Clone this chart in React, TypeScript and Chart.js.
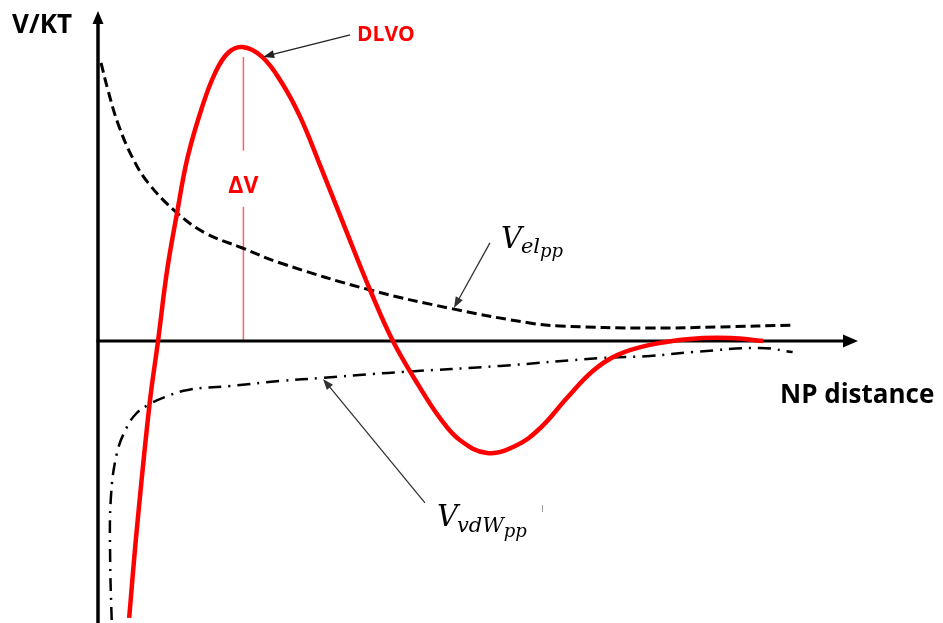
import React, { useEffect, useRef } from "react";
import { Chart, registerables } from "chart.js";

Chart.register(...registerables);

const W = 943;
const H = 623;

// Separation distance (arbitrary units) and interaction energy (V/kT)
const dlvoDistance = [0.41, 0.51, 0.68, 0.79, 0.91, 1.04, 1.18, 1.37, 1.54, 1.71, 1.9, 2.16, 2.42, 2.66, 2.92, 3.25, 3.58, 3.88, 4.24, 4.5, 4.76, 5.12, 5.49, 5.82, 6.17, 6.51, 6.83, 7.26, 7.79, 8.32, 8.75];
const dlvoEnergy = [-9.23, -6.3, -2.07, 0, 2.37, 4.27, 6.13, 7.8, 8.93, 9.6, 9.8, 9.47, 8.6, 7.47, 5.87, 3.77, 1.7, 0, -1.57, -2.57, -3.3, -3.73, -3.5, -2.9, -1.9, -1.0, -0.47, -0.13, 0.07, 0.1, 0];

const elDistance = [0.04, 0.13, 0.26, 0.45, 0.66, 1.04, 1.41, 1.9, 2.4, 3.58, 4.67, 5.68, 6.08, 7.26, 8.18, 9.14];
const elEnergy = [9.27, 8.37, 7.27, 6.13, 5.27, 4.27, 3.6, 3.1, 2.6, 1.7, 1.07, 0.6, 0.5, 0.43, 0.47, 0.53];

const vdwDistance = [0.18, 0.16, 0.17, 0.25, 0.38, 0.51, 0.66, 0.88, 1.18, 1.74, 2.4, 2.96, 3.62, 4.01, 5.29, 6.61, 7.26, 7.83, 8.71, 9.14];
const vdwEnergy = [-9.3, -7.3, -5.2, -3.73, -2.87, -2.4, -2.13, -1.87, -1.63, -1.5, -1.33, -1.23, -1.1, -1.03, -0.83, -0.57, -0.5, -0.37, -0.23, -0.37];

const yAxisTitle = "V/KT";
const xAxisTitle = "NP distance";
const dlvoTitle = "DLVO";
const barrierTitle = "ΔV";

// visible window of the schematic, origin of the axes at (0, 0)
const X_MIN = -1.2895;
const X_MAX = 11.1184;
const Y_MIN = -9.4;
const Y_MAX = 11.3667;
const X_AXIS_END = 10;
const Y_AXIS_END = 11.0;

const RED = "#ff0000";

const toPoints = (xs: number[], ys: number[]) => xs.map((x, i) => ({ x, y: ys[i] }));

function arrow(ctx: CanvasRenderingContext2D, x1: number, y1: number, x2: number, y2: number, color: string) {
  const ang = Math.atan2(y2 - y1, x2 - x1);
  const len = 11;
  const half = 4;
  ctx.save();
  ctx.strokeStyle = color;
  ctx.fillStyle = color;
  ctx.lineWidth = 1.3;
  ctx.beginPath();
  ctx.moveTo(x1, y1);
  ctx.lineTo(x2 - Math.cos(ang) * len * 0.8, y2 - Math.sin(ang) * len * 0.8);
  ctx.stroke();
  ctx.beginPath();
  ctx.moveTo(x2, y2);
  ctx.lineTo(x2 - Math.cos(ang) * len - Math.sin(ang) * half, y2 - Math.sin(ang) * len + Math.cos(ang) * half);
  ctx.lineTo(x2 - Math.cos(ang) * len + Math.sin(ang) * half, y2 - Math.sin(ang) * len - Math.cos(ang) * half);
  ctx.closePath();
  ctx.fill();
  ctx.restore();
}

type Part = [string, number, number, number];

// italic symbol with nested subscripts: [text, size, baseline shift, extra advance]
function mathLabel(ctx: CanvasRenderingContext2D, x: number, base: number, parts: Part[]) {
  ctx.save();
  ctx.fillStyle = "#000";
  ctx.textBaseline = "alphabetic";
  ctx.textAlign = "left";
  let cx = x;
  for (const [t, size, dy, adv] of parts) {
    ctx.font = `italic ${size}px "DejaVu Serif"`;
    ctx.fillText(t, cx, base + dy);
    cx += ctx.measureText(t).width + adv;
  }
  ctx.restore();
}

const schematicPlugin = {
  id: "schematic",
  beforeDatasetsDraw(chart: any) {
    const { ctx } = chart;
    const xs = chart.scales.x;
    const ys = chart.scales.y;
    const ox = xs.getPixelForValue(0);
    const oy = ys.getPixelForValue(0);

    // energy barrier marker from the DLVO maximum down to the axis
    let iPeak = 0;
    dlvoEnergy.forEach((v, i) => {
      if (v > dlvoEnergy[iPeak]) iPeak = i;
    });
    const px = xs.getPixelForValue(dlvoDistance[iPeak]) + 1;
    const pTop = ys.getPixelForValue(dlvoEnergy[iPeak]) + 10;
    const labelY = ys.getPixelForValue(dlvoEnergy[iPeak] * 0.525);
    ctx.save();
    ctx.strokeStyle = "rgba(255,60,60,0.8)";
    ctx.lineWidth = 1.5;
    ctx.beginPath();
    ctx.moveTo(px, pTop);
    ctx.lineTo(px, labelY - 36);
    ctx.moveTo(px, labelY + 20);
    ctx.lineTo(px, oy);
    ctx.stroke();
    ctx.fillStyle = RED;
    ctx.font = 'bold 23px "Open Sans"';
    ctx.textAlign = "center";
    ctx.textBaseline = "middle";
    ctx.fillText(barrierTitle, px, labelY);

    // axes with arrowheads
    const yTop = ys.getPixelForValue(Y_AXIS_END);
    const xEnd = xs.getPixelForValue(X_AXIS_END);
    ctx.strokeStyle = "#000";
    ctx.fillStyle = "#000";
    ctx.lineWidth = 3.5;
    ctx.beginPath();
    ctx.moveTo(ox, H);
    ctx.lineTo(ox, yTop + 10);
    ctx.stroke();
    ctx.beginPath();
    ctx.moveTo(ox, yTop);
    ctx.lineTo(ox - 5.5, yTop + 13);
    ctx.lineTo(ox + 5.5, yTop + 13);
    ctx.closePath();
    ctx.fill();

    ctx.lineWidth = 3;
    ctx.beginPath();
    ctx.moveTo(ox - 1.5, oy);
    ctx.lineTo(xEnd - 12, oy);
    ctx.stroke();
    ctx.beginPath();
    ctx.moveTo(xEnd, oy);
    ctx.lineTo(xEnd - 15, oy - 6.5);
    ctx.lineTo(xEnd - 15, oy + 6.5);
    ctx.closePath();
    ctx.fill();
    ctx.restore();
  },
  afterDatasetsDraw(chart: any) {
    const { ctx } = chart;
    const xs = chart.scales.x;
    const ys = chart.scales.y;
    const at = (xv: number, yv: number) => [xs.getPixelForValue(xv), ys.getPixelForValue(yv)];

    const [dx, dy] = at(dlvoDistance[11], dlvoEnergy[11]);
    arrow(ctx, dx + 88, dy - 22, dx + 1, dy, "#222");

    const [ex, ey] = at(elDistance[10], elEnergy[10]);
    arrow(ctx, ex + 37, ey - 66, ex + 1, ey - 1, "#333");

    const [vx, vy] = at(vdwDistance[11], vdwEnergy[11]);
    arrow(ctx, vx + 102, vy + 125, vx, vy + 1, "#333");

    ctx.save();
    ctx.textAlign = "left";
    ctx.textBaseline = "alphabetic";
    ctx.fillStyle = RED;
    ctx.font = 'bold 21px "Open Sans"';
    ctx.fillText(dlvoTitle, 357, 41);

    ctx.fillStyle = "#000";
    ctx.font = 'bold 26px "Open Sans"';
    ctx.fillText(yAxisTitle, 12, 33);
    ctx.fillText(xAxisTitle, 780, 403);

    ctx.strokeStyle = "rgba(120,120,120,0.7)";
    ctx.lineWidth = 1;
    ctx.beginPath();
    ctx.moveTo(542.5, 505);
    ctx.lineTo(542.5, 512);
    ctx.stroke();
    ctx.restore();

    mathLabel(ctx, 501, 248, [
      ["V", 29, 0, -1],
      ["el", 21, 5, 0],
      ["pp", 18, 9, 0],
    ]);
    mathLabel(ctx, 437, 526, [
      ["V", 29, 0, -1],
      ["vdW", 21, 6, 0],
      ["pp", 18, 11, 0],
    ]);
  },
};

export default function App() {
  const canvasRef = useRef<HTMLCanvasElement>(null);

  useEffect(() => {
    const canvas = canvasRef.current;
    if (!canvas) return;
    const chart = new Chart(canvas, {
      type: "line",
      data: {
        datasets: [
          {
            label: "DLVO",
            data: toPoints(dlvoDistance, dlvoEnergy),
            borderColor: RED,
            borderWidth: 4.5,
            tension: 0.4,
            pointRadius: 0,
            fill: false,
            order: 0,
          },
          {
            label: "V_el",
            data: toPoints(elDistance, elEnergy),
            borderColor: "#000",
            borderWidth: 3,
            borderDash: [10, 5],
            tension: 0.4,
            pointRadius: 0,
            fill: false,
            order: 1,
          },
          {
            label: "V_vdW",
            data: toPoints(vdwDistance, vdwEnergy),
            borderColor: "#000",
            borderWidth: 2.5,
            borderDash: [13, 7, 2, 7],
            tension: 0.4,
            pointRadius: 0,
            fill: false,
            order: 2,
          },
        ],
      },
      options: {
        responsive: false,
        devicePixelRatio: 1,
        animation: false,
        events: [],
        layout: { padding: 0 },
        plugins: { legend: { display: false }, tooltip: { enabled: false } },
        scales: {
          x: { type: "linear", min: X_MIN, max: X_MAX, display: false },
          y: { type: "linear", min: Y_MIN, max: Y_MAX, display: false },
        },
      },
      plugins: [schematicPlugin],
    } as any);
    return () => chart.destroy();
  }, []);

  return (
    <div style={{ position: "fixed", left: 0, top: 0, width: W, height: H, background: "#fff" }}>
      <canvas ref={canvasRef} width={W} height={H} style={{ display: "block", width: W, height: H }} />
    </div>
  );
}
